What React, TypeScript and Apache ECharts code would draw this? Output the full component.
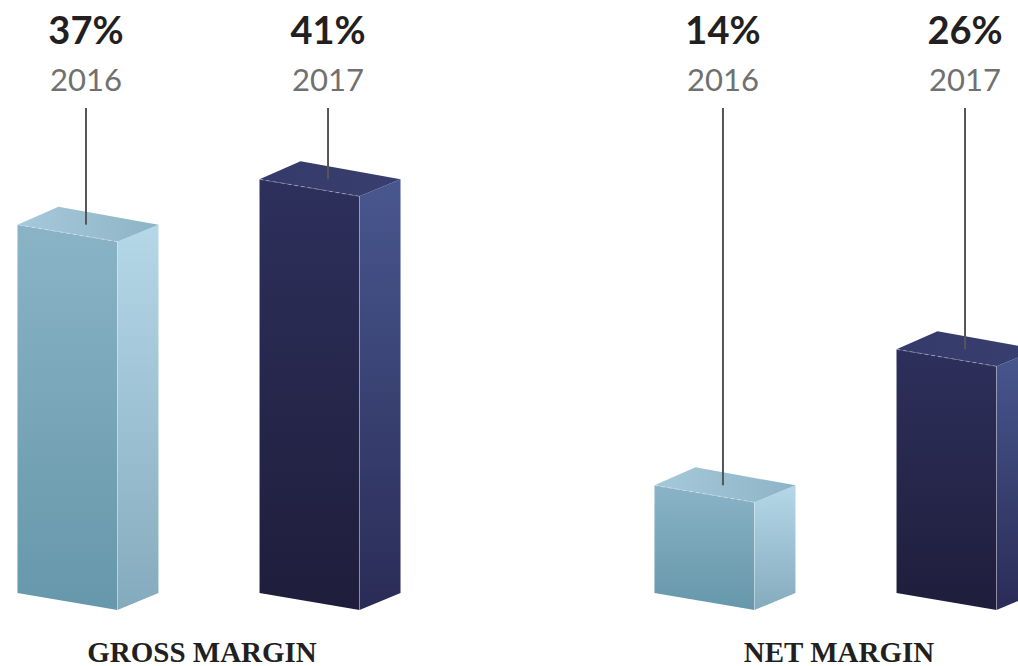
import React, { useEffect, useRef } from "react";
import * as echarts from "echarts";

const categories = ["GROSS MARGIN", "NET MARGIN"];
const years = ["2016", "2017"];
const values2016 = [37, 14];
const values2017 = [41, 26];

const palettes: Record<string, any> = {
  "2016": {
    frontTop: "#8ab3c6", frontBot: "#6697aa",
    sideTop: "#b5d8e8", sideBot: "#84abbd",
    topL: "#a6c9da", topR: "#8db4c6",
  },
  "2017": {
    frontTop: "#2d305c", frontBot: "#1f1d3b",
    sideTop: "#48578f", sideBot: "#2a2c56",
    topL: "#343a69", topR: "#383f70",
  },
};

const FRONT_W = 100;
const SIDE_W = 41;
const SLOPE = 17;
const BACK_RISE = 18;

function makeSeries(name: string, values: number[], sign: number) {
  const pal = palettes[name];
  return {
    type: "custom",
    name,
    clip: false,
    data: values.map((v, i) => [i, v]),
    renderItem: (params: any, api: any) => {
      const cat = api.value(0);
      const v = api.value(1);
      const c0 = api.coord([0, 0]);
      const c1 = api.coord([1, 0]);
      const band = c1[0] - c0[0];
      const center = api.coord([cat, v]);
      const yBot = params.coordSys.y + params.coordSys.height;
      const cx = center[0] + sign * band * 0.19;
      const xL = cx - (FRONT_W + SIDE_W) / 2;
      const yTop = center[1];
      const xR = xL + FRONT_W;
      const xS = xR + SIDE_W;
      const lg = (x0: number, y0: number, x1: number, y1: number, a: string, b: string) =>
        new echarts.graphic.LinearGradient(x0, y0, x1, y1, [
          { offset: 0, color: a },
          { offset: 1, color: b },
        ]);
      const labelX = cx - 2;
      return {
        type: "group",
        children: [
          {
            type: "polygon",
            shape: { points: [[xL, yTop], [xR, yTop + SLOPE], [xR, yBot + SLOPE], [xL, yBot]] },
            style: { fill: lg(0, 0, 0, 1, pal.frontTop, pal.frontBot) },
          },
          {
            type: "polygon",
            shape: { points: [[xR, yTop + SLOPE], [xS, yTop], [xS, yBot], [xR, yBot + SLOPE]] },
            style: { fill: lg(0, 0, 0, 1, pal.sideTop, pal.sideBot) },
          },
          {
            type: "polygon",
            shape: { points: [[xL, yTop], [xL + SIDE_W, yTop - BACK_RISE], [xS, yTop], [xR, yTop + SLOPE]] },
            style: { fill: lg(0, 0, 1, 0, pal.topL, pal.topR) },
          },
          {
            type: "line",
            shape: { x1: xL, y1: yTop, x2: xR, y2: yTop + SLOPE },
            style: { stroke: "rgba(255,255,255,0.35)", lineWidth: 1, lineDash: [4, 3] },
          },
          {
            type: "line",
            shape: { x1: xR, y1: yTop + SLOPE, x2: xR, y2: yBot + SLOPE },
            style: { stroke: "rgba(255,255,255,0.3)", lineWidth: 1 },
          },
          {
            type: "line",
            shape: { x1: labelX, y1: 108, x2: labelX, y2: yTop },
            style: { stroke: "#555555", lineWidth: 2 },
          },
          {
            type: "text",
            x: labelX,
            y: 29,
            style: {
              text: v + "%",
              fill: "#231f20",
              fontFamily: "Lato",
              fontWeight: "bold",
              fontSize: 38,
              align: "center",
              verticalAlign: "middle",
            },
          },
          {
            type: "text",
            x: labelX,
            y: 79,
            style: {
              text: name,
              fill: "#707070",
              fontFamily: "Lato",
              fontSize: 31,
              align: "center",
              verticalAlign: "middle",
            },
          },
        ],
      };
    },
  };
}

export default function App() {
  const ref = useRef<HTMLDivElement>(null);
  useEffect(() => {
    if (!ref.current) return;
    const chart = echarts.init(ref.current, undefined, { renderer: "svg" });
    chart.setOption({
      animation: false,
      backgroundColor: "#ffffff",
      grid: { left: 209, right: 172, top: 134, bottom: 73 },
      xAxis: {
        type: "category",
        data: categories,
        boundaryGap: false,
        axisLine: { show: false },
        axisTick: { show: false },
        splitLine: { show: false },
        axisLabel: {
          margin: 44,
          color: "#231f20",
          fontFamily: "Liberation Serif",
          fontWeight: "bold",
          fontSize: 29,
          padding: [0, 14, 0, 0],
        },
      },
      yAxis: {
        type: "value",
        min: 4.5,
        max: 45,
        show: false,
        splitLine: { show: false },
      },
      series: [
        makeSeries(years[0], values2016, -1),
        makeSeries(years[1], values2017, 1),
      ],
    });
    return () => chart.dispose();
  }, []);
  return (
    <div
      ref={ref}
      style={{ position: "fixed", left: 0, top: 0, width: 1018, height: 666 }}
    />
  );
}
